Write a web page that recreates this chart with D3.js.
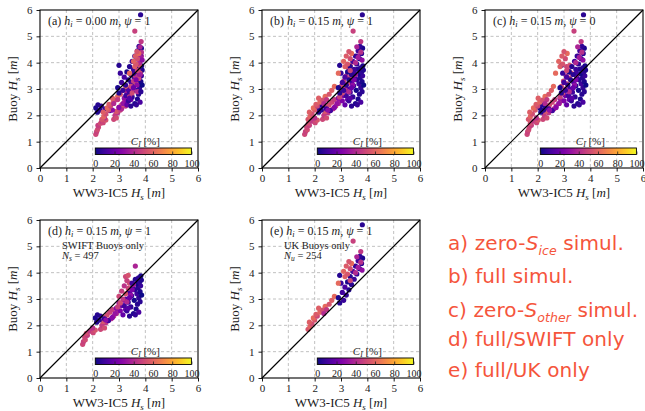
<!DOCTYPE html>
<html>
<head>
<meta charset="utf-8">
<script src="https://cdn.jsdelivr.net/npm/d3@7"></script>
<style>
  body { margin: 0; background: #fff; }
  svg { display: block; }
</style>
</head>
<body>
<svg id="fig" width="645" height="411"></svg>
<script>
// axis ticks
const hsTicks = [0, 1, 2, 3, 4, 5, 6];
const ciTicks = [0, 20, 40, 60, 80, 100];

// SWIFT buoys: observed Hs, ice concentration (%), and model Hs of the three runs
const swiftBuoyHs = [1.28,1.38,1.45,1.55,1.62,1.70,1.78,1.72,1.82,1.90, 1.85,2.00,1.90,2.10,2.15,2.20,2.25,2.30,2.35,2.40,2.45,2.50,2.55,2.60, 2.12,2.20,2.28,2.35,2.40,2.25,2.18, 2.30,2.45,2.55,2.65,2.75,2.85,2.95,2.60,2.40, 2.35,2.45,2.55,2.62,2.70,2.80,2.88,2.95,3.05,3.12,3.20,3.28,3.35,3.42,3.50,3.58,3.65,3.72,3.80,3.88,3.25,3.00,2.75,3.45,3.15,2.50, 2.70,2.85,3.00,3.10,3.20,3.30,3.40,3.50,3.60,3.70,3.85,3.90,4.25,3.55,3.15,2.90, 2.40,2.90,3.60,3.75,2.65,3.05,3.35,2.20];
const swiftIce = [50,48,52,50,47,53,45,50,55,42, 50,46,52,44,55,48,40,50,45,53,42,50,38,47, 3,5,2,6,4,8,10, 28,32,25,30,22,35,27,20,18, 5,3,8,2,6,4,10,1,7,3,9,2,5,4,8,1,6,3,7,2,12,14,10,9,0,12, 48,52,45,50,55,47,50,43,52,48,50,54,38,35,30,40, 7,5,10,4,15,20,25,30];
const swiftModelFull = [1.62,1.65,1.72,1.70,1.80,1.76,1.90,2.02,2.10,2.00, 2.30,2.35,2.45,2.50,2.40,2.60,2.70,2.45,2.80,2.55,2.90,2.65,2.95,2.75, 2.15,2.25,2.10,2.30,2.18,2.45,2.60, 2.75,2.85,3.05,2.90,3.10,3.00,3.20,3.25,3.15, 3.40,3.55,3.30,3.65,3.45,3.70,3.35,3.58,3.75,3.48,3.68,3.80,3.60,3.72,3.82,3.66,3.78,3.85,3.74,3.83,3.40,3.25,3.20,3.52,3.86,3.75, 2.95,3.05,3.15,3.00,3.25,3.10,3.35,3.20,3.40,3.30,3.25,3.35,3.62,3.55,3.45,3.30, 3.62,3.80,3.50,3.62,3.35,3.40,3.50,2.50];
const swiftModelNoIce = [2.12,2.15,2.18,2.22,2.20,2.30,2.35,2.40,2.50,2.45, 2.80,2.85,2.90,2.95,2.90,3.05,3.10,3.00,3.25,3.10,3.30,3.20,3.35,3.30, 2.18,2.28,2.12,2.33,2.20,2.48,2.65, 3.00,3.15,3.30,3.20,3.35,3.30,3.45,3.45,3.30, 3.45,3.60,3.36,3.70,3.50,3.74,3.40,3.62,3.78,3.52,3.72,3.83,3.64,3.76,3.85,3.70,3.82,3.88,3.78,3.86,3.46,3.32,3.26,3.57,3.88,3.80, 3.40,3.50,3.55,3.45,3.65,3.55,3.75,3.62,3.80,3.72,3.70,3.78,3.85,3.80,3.68,3.70, 3.66,3.83,3.55,3.66,3.40,3.55,3.65,2.75];
const swiftModelNoOther = [1.60,1.62,1.66,1.68,1.76,1.72,1.84,1.96,2.02,1.95, 2.20,2.25,2.35,2.42,2.30,2.50,2.62,2.35,2.70,2.45,2.82,2.55,2.88,2.65, 2.12,2.22,2.08,2.27,2.15,2.42,2.56, 2.70,2.80,3.00,2.85,3.05,2.92,3.15,3.20,3.10, 3.38,3.52,3.28,3.62,3.42,3.68,3.32,3.55,3.72,3.45,3.65,3.77,3.57,3.70,3.79,3.63,3.75,3.82,3.71,3.80,3.37,3.22,3.17,3.49,3.83,3.72, 2.85,2.95,3.05,2.90,3.12,2.98,3.22,3.08,3.28,3.18,3.10,3.22,3.55,3.48,3.40,3.20, 3.58,3.77,3.47,3.59,3.30,3.35,3.45,2.45];

// UK buoys
const ukBuoyHs = [1.85,1.95,2.05,2.12,2.20,2.28,2.35,2.42,2.50,2.58,2.65,2.72,2.60,2.45,2.80,3.10,2.95, 2.85,2.95,3.05,3.15,3.25,3.35,3.45,3.55,3.65,3.75,3.85,3.95,4.05,4.15,4.25,4.35,4.45,4.55,4.62,3.90,3.60,5.82, 4.00,4.20,4.40,4.60,4.80,5.20,4.10, 3.85,3.95,4.05,4.15,4.25,4.35,4.42,3.70,3.60];
const ukIce = [55,60,52,58,55,62,50,57,60,53,58,62,45,40,55,62,58, 4,8,2,6,10,3,12,5,2,8,4,6,10,3,7,5,9,2,6,4,8,5, 40,35,42,38,45,48,30, 58,55,60,52,57,62,55,50,62];
const ukModelFull = [1.75,1.82,1.90,1.80,2.00,1.95,2.10,2.05,2.20,2.30,2.15,2.40,2.45,2.35,2.55,2.75,2.65, 2.95,3.10,2.90,3.20,3.05,3.30,3.15,3.40,3.25,3.50,3.35,3.60,3.45,3.70,3.55,3.78,3.65,3.82,3.72,2.95,3.00,3.81, 3.55,3.65,3.75,3.60,3.75,3.46,3.80, 3.15,3.25,3.10,3.35,3.20,3.40,3.30,3.35,2.90];
const ukModelNoIce = [2.35,2.42,2.50,2.40,2.60,2.55,2.68,2.62,2.78,2.85,2.75,2.95,2.95,2.80,3.05,3.25,3.15, 3.00,3.15,2.95,3.25,3.10,3.35,3.20,3.45,3.30,3.55,3.40,3.65,3.50,3.75,3.60,3.82,3.70,3.85,3.76,3.00,3.05,3.82, 3.78,3.82,3.85,3.80,3.84,3.60,3.88, 3.60,3.65,3.55,3.70,3.62,3.75,3.68,3.70,3.40];
const ukModelNoOther = [1.65,1.72,1.80,1.70,1.90,1.84,2.00,1.94,2.08,2.18,2.02,2.28,2.35,2.28,2.42,2.60,2.52, 2.90,3.05,2.85,3.15,3.00,3.25,3.10,3.35,3.20,3.45,3.30,3.55,3.40,3.65,3.50,3.73,3.60,3.77,3.68,2.90,2.95,3.74, 3.45,3.58,3.68,3.52,3.65,3.38,3.72, 2.85,2.95,2.80,3.05,2.92,3.12,3.00,3.10,2.68];

const legendLines = [
  ["a) zero-", "S", "ice", " simul."],
  ["b) full simul."],
  ["c) zero-", "S", "other", " simul."],
  ["d) full/SWIFT only"],
  ["e) full/UK only"]
];

const svg = d3.select("#fig");
const size = 158;
const serif = "'Liberation Serif', 'DejaVu Serif', serif";

function pts(buoy, ice, model) {
  return buoy.map((b, i) => ({ obs: b, ci: ice[i], mod: model[i] }));
}

const panels = [
  { left: 40,  top: 10,  tag: "(a)", hi: "0.00", psi: "1",
    data: pts(swiftBuoyHs, swiftIce, swiftModelNoIce).concat(pts(ukBuoyHs, ukIce, ukModelNoIce)) },
  { left: 262, top: 10,  tag: "(b)", hi: "0.15", psi: "1",
    data: pts(swiftBuoyHs, swiftIce, swiftModelFull).concat(pts(ukBuoyHs, ukIce, ukModelFull)) },
  { left: 485, top: 10,  tag: "(c)", hi: "0.15", psi: "0",
    data: pts(swiftBuoyHs, swiftIce, swiftModelNoOther).concat(pts(ukBuoyHs, ukIce, ukModelNoOther)) },
  { left: 40,  top: 220, tag: "(d)", hi: "0.15", psi: "1", note: ["SWIFT Buoys only", "s", "497"],
    data: pts(swiftBuoyHs, swiftIce, swiftModelFull) },
  { left: 262, top: 220, tag: "(e)", hi: "0.15", psi: "1", note: ["UK Buoys only", "u", "254"],
    data: pts(ukBuoyHs, ukIce, ukModelFull) }
];

// colour bar gradient (plasma)
const grad = svg.append("defs").append("linearGradient").attr("id", "plasma");
d3.range(0, 1.0001, 0.05).forEach(t => {
  grad.append("stop").attr("offset", t).attr("stop-color", d3.interpolatePlasma(t));
});
const color = d3.scaleSequential(d3.interpolatePlasma).domain([0, 100]);

panels.forEach(p => {
  const g = svg.append("g").attr("transform", `translate(${p.left},${p.top})`);
  const x = d3.scaleLinear().domain([0, 6]).range([0, size]);
  const y = d3.scaleLinear().domain([0, 6]).range([size, 0]);

  // dashed grid
  const grid = g.append("g").attr("stroke", "#b0b0b0").attr("stroke-width", 0.8)
    .attr("stroke-dasharray", "3,2.5");
  grid.selectAll(".gv").data(hsTicks.slice(1, -1)).join("line").attr("class", "gv")
    .attr("x1", d => x(d)).attr("x2", d => x(d)).attr("y1", 0).attr("y2", size);
  grid.selectAll(".gh").data(hsTicks.slice(1, -1)).join("line").attr("class", "gh")
    .attr("y1", d => y(d)).attr("y2", d => y(d)).attr("x1", 0).attr("x2", size);

  // scatter
  g.append("g").selectAll("circle").data(p.data).join("circle")
    .attr("cx", d => x(d.mod)).attr("cy", d => y(d.obs)).attr("r", 2.6)
    .attr("fill", d => color(d.ci));

  // 1:1 line
  g.append("line").attr("x1", x(0)).attr("y1", y(0)).attr("x2", x(6)).attr("y2", y(6))
    .attr("stroke", "#000").attr("stroke-width", 1.2);

  // axes
  const ax = g.append("g").attr("transform", `translate(0,${size})`)
    .call(d3.axisBottom(x).tickValues(hsTicks).tickSize(3.5).tickPadding(3).tickFormat(d3.format("d")));
  const ay = g.append("g")
    .call(d3.axisLeft(y).tickValues(hsTicks).tickSize(3.5).tickPadding(4).tickFormat(d3.format("d")));
  [ax, ay].forEach(a => {
    a.select(".domain").remove();
    a.selectAll("text").attr("font-family", serif).attr("font-size", 11).attr("fill", "#222");
    a.selectAll("line").attr("stroke", "#000").attr("stroke-width", 0.9);
  });
  g.append("rect").attr("width", size).attr("height", size)
    .attr("fill", "none").attr("stroke", "#000").attr("stroke-width", 1.1);

  // axis labels
  const xl = g.append("text").attr("x", size / 2).attr("y", size + 29).attr("text-anchor", "middle")
    .attr("font-family", serif).attr("font-size", 13).attr("fill", "#222");
  xl.append("tspan").text("WW3-IC5 ");
  xl.append("tspan").attr("font-style", "italic").text("H");
  xl.append("tspan").attr("font-style", "italic").attr("font-size", 9).attr("dy", 2.5).text("s");
  xl.append("tspan").attr("dy", -2.5).text(" [");
  xl.append("tspan").attr("font-style", "italic").text("m");
  xl.append("tspan").text("]");

  const yl = g.append("text").attr("transform", `translate(-23,${size / 2}) rotate(-90)`)
    .attr("text-anchor", "middle").attr("font-family", serif).attr("font-size", 13).attr("fill", "#222");
  yl.append("tspan").text("Buoy ");
  yl.append("tspan").attr("font-style", "italic").text("H");
  yl.append("tspan").attr("font-style", "italic").attr("font-size", 9).attr("dy", 2.5).text("s");
  yl.append("tspan").attr("dy", -2.5).text(" [");
  yl.append("tspan").attr("font-style", "italic").text("m");
  yl.append("tspan").text("]");

  // panel title
  const t = g.append("text").attr("x", 8).attr("y", 15)
    .attr("font-family", serif).attr("font-size", 12).attr("fill", "#222");
  t.append("tspan").text(p.tag + " ");
  t.append("tspan").attr("font-style", "italic").text("h");
  t.append("tspan").attr("font-style", "italic").attr("font-size", 8.5).attr("dy", 2).text("i");
  t.append("tspan").attr("dy", -2).text(` = ${p.hi} `);
  t.append("tspan").attr("font-style", "italic").text("m");
  t.append("tspan").text(", ");
  t.append("tspan").attr("font-style", "italic").text("ψ");
  t.append("tspan").text(` = ${p.psi}`);

  if (p.note) {
    g.append("text").attr("x", 22).attr("y", 29).attr("font-family", serif).attr("font-size", 10.5)
      .attr("fill", "#222").text(p.note[0]);
    const n = g.append("text").attr("x", 22).attr("y", 39).attr("font-family", serif)
      .attr("font-size", 10.5).attr("fill", "#222");
    n.append("tspan").attr("font-style", "italic").text("N");
    n.append("tspan").attr("font-style", "italic").attr("font-size", 7.5).attr("dy", 1.5).text(p.note[1]);
    n.append("tspan").attr("dy", -1.5).text(" = " + p.note[2]);
  }

  // colour bar
  const cb = d3.scaleLinear().domain([0, 100]).range([x(2.1), x(5.75)]);
  const cbTop = y(0.76), cbH = 6.5;
  const cbg = g.append("g");
  cbg.append("rect").attr("x", cb(0)).attr("y", cbTop).attr("width", cb(100) - cb(0)).attr("height", cbH)
    .attr("fill", "url(#plasma)").attr("stroke", "#000").attr("stroke-width", 0.9);
  const cax = cbg.append("g").attr("transform", `translate(0,${cbTop + cbH})`)
    .call(d3.axisBottom(cb).tickValues(ciTicks).tickSize(-3).tickPadding(5));
  cax.select(".domain").remove();
  cax.selectAll("line").attr("stroke", "#222").attr("stroke-width", 0.8);
  cax.selectAll("text").attr("font-family", serif).attr("font-size", 10).attr("fill", "#222");
  const cl = cbg.append("text").attr("x", (cb(0) + cb(100)) / 2 + 2).attr("y", cbTop - 3)
    .attr("text-anchor", "middle").attr("font-family", serif).attr("font-size", 11).attr("fill", "#222");
  cl.append("tspan").attr("font-style", "italic").text("C");
  cl.append("tspan").attr("font-style", "italic").attr("font-size", 7.5).attr("dy", 2).text("I");
  cl.append("tspan").attr("dy", -2).text(" [%]");
});

// coloured caption list
const legendY = [250, 283, 317, 346, 377];
legendLines.forEach((parts, i) => {
  const t = svg.append("text").attr("x", 448).attr("y", legendY[i])
    .attr("font-family", "'DejaVu Sans', sans-serif").attr("font-size", 20)
    .attr("letter-spacing", 0.1).attr("fill", "#f5553c");
  t.append("tspan").text(parts[0]);
  if (parts.length > 1) {
    t.append("tspan").attr("font-style", "italic").text(parts[1]);
    t.append("tspan").attr("font-style", "italic").attr("font-size", 12.5).attr("dy", 5).text(parts[2]);
    t.append("tspan").attr("dy", -5).text(parts[3]);
  }
});
</script>
</body>
</html>
